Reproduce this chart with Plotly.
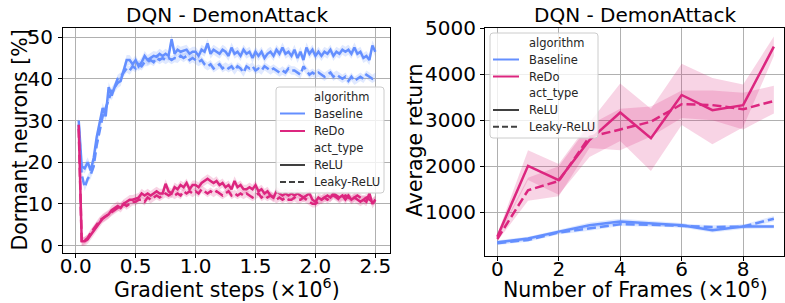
import plotly.graph_objects as go

# ---------------- data: left panel (dormant neurons %) ----------------
steps = [round(0.025 * (i + 1), 3) for i in range(100)]  # gradient steps (x1e6)

base_relu = [30, 19, 18.5, 20, 18, 21, 26, 30, 33, 31,
             38, 36, 38, 39, 39.5, 42, 44.5, 44.5, 43.5, 44.5,
             43, 44, 45.5, 44.5, 45, 45.5, 45.3, 46, 45.5, 46,
             45.5, 49.5, 46, 47, 46.5, 46.8, 47, 46, 46.5, 46.5,
             45.5, 47, 46.5, 48.5, 46, 47, 46.5, 46, 47, 46.5,
             45.5, 47.5, 46, 46.5, 45.5, 47, 46, 46.5, 45, 46.5,
             45.5, 46.5, 45, 46, 46.5, 45.5, 47, 46, 47.5, 46,
             46.5, 45.5, 47, 45, 46.5, 44.5, 47.5, 46, 47, 45.5,
             46.5, 45.5, 46.5, 46, 47, 45.5, 46.5, 46, 47, 46.5,
             47, 46, 47.5, 46, 46.5, 45, 45.5, 44.5, 48, 46.5]
base_leaky = [29, 17, 14, 16, 17, 19, 24, 28, 31, 33,
              35, 37, 38, 40, 40.5, 41.5, 42.5, 42, 43, 42.5,
              43.5, 43, 44, 44, 44.5, 44, 45, 44.5, 45, 44.5,
              45, 44.5, 45, 44.8, 45.5, 45, 45.5, 44.5, 45, 44.5,
              44, 44.5, 43.5, 43, 43.5, 42.5, 43, 43.5, 42.5, 43,
              42.5, 43, 42, 43, 42.5, 41.5, 43, 42.5, 43, 42,
              42.5, 42, 43, 42.5, 42, 42.5, 42, 41.5, 42, 41.5,
              42.5, 42, 42, 41.5, 41, 43, 42, 41, 41.5, 41,
              41.5, 41, 40.5, 41, 41.5, 40.5, 41, 40.5, 40, 40.5,
              39.5, 40.5, 39.5, 40, 40.5, 40, 41, 40.5, 40, 40.5]
redo_relu = [29, 1, 1, 1.5, 2.5, 3.5, 4.5, 5.5, 6.5, 7,
             7.5, 8.5, 9, 9.5, 9, 10, 10.5, 11, 11, 11.2,
             11.5, 12.5, 12, 12.5, 12, 12.5, 13, 12.5, 12.5, 14.8,
             13, 12.5, 14, 13.5, 14.5, 14, 15, 13.5, 14.5, 14.5,
             14, 15, 15.5, 16, 15.5, 15, 15.5, 14.5, 15, 14,
             14.5, 13.5, 15.5, 14, 14.5, 13.5, 13.5, 14, 13.5, 14.5,
             13, 13.5, 12.5, 13, 12, 11.5, 13, 12.5, 12, 12.5,
             12, 12.5, 12, 12.5, 12, 11.5, 12, 12.5, 11, 10.5,
             11.5, 11, 11.5, 12, 11.5, 12.5, 12, 11.5, 12, 11,
             12, 11, 11.5, 11, 10.5, 11, 10.5, 12.5, 10, 11]
redo_leaky = [28, 0.8, 1.2, 1.8, 3, 4, 5, 6, 6.5, 7,
              7.5, 8, 8.5, 9, 9.5, 10, 9.5, 10, 10.5, 10.5,
              11, 11, 10.5, 11.5, 11, 11.5, 12, 11.5, 12, 12.5,
              12, 12.5, 12, 12.5, 12, 13, 12.5, 13, 12.5, 13,
              12.5, 13.5, 13, 12.5, 13, 12.5, 13, 12.5, 12, 12.5,
              13, 12, 12.5, 12, 12.5, 12, 12.5, 12, 11.5, 12,
              12.5, 11.5, 12, 11.5, 12, 11.5, 11, 11.5, 11, 11.5,
              11, 11, 11.5, 11, 11, 11.5, 11, 10.5, 10, 10,
              10.5, 11, 11.5, 11, 11.5, 12, 11.5, 11, 11.5, 12,
              11.5, 11, 11.5, 12, 11.5, 11, 11.5, 11, 10.5, 11]
# estimated confidence half-widths for the thin left-panel bands
ci_base_relu = 1.2
ci_base_leaky = 1.0
ci_redo_relu = 1.1
ci_redo_leaky = 0.9

# ---------------- data: right panel (average return) ----------------
frames = [0, 1, 2, 3, 4, 5, 6, 7, 8, 9]  # x1e6
ret_base_relu = [350, 430, 580, 720, 800, 760, 720, 610, 690, 690]
ret_base_relu_lo = [310, 390, 540, 660, 740, 710, 670, 560, 640, 650]
ret_base_relu_hi = [390, 470, 620, 780, 860, 810, 770, 660, 740, 730]
ret_base_leaky = [330, 400, 560, 650, 740, 730, 710, 680, 690, 860]
ret_base_leaky_lo = [290, 360, 520, 600, 700, 690, 670, 640, 650, 800]
ret_base_leaky_hi = [370, 440, 600, 700, 780, 770, 750, 720, 730, 920]
ret_redo_relu = [470, 2010, 1700, 2570, 3170, 2610, 3550, 3220, 3330, 4600]
ret_redo_relu_lo = [420, 1700, 1380, 2200, 2550, 1900, 2900, 2480, 2850, 4400]
ret_redo_relu_hi = [520, 2350, 2050, 2950, 3800, 3250, 4230, 3920, 3780, 4820]
ret_redo_leaky = [420, 1480, 1680, 2640, 2800, 2970, 3350, 3330, 3240, 3420]
ret_redo_leaky_lo = [370, 1250, 1350, 2400, 2350, 2650, 3050, 3000, 2800, 3150]
ret_redo_leaky_hi = [470, 1750, 2000, 2900, 3250, 3300, 3650, 3650, 3600, 3750]

legend_header_algo = "algorithm"
legend_header_act = "act_type"
algorithms = ["Baseline", "ReDo"]
act_types = ["ReLU", "Leaky-ReLU"]

BLUE = "#648FFF"
PINK = "#DC267F"
BLUE_F = "rgba(100,143,255,0.2)"
PINK_F = "rgba(220,38,127,0.2)"
DASH = "9px,4px"
LW = 2.5
FONT = "DejaVu Sans"
W, H = 785, 303

fig = go.Figure()


def band(x, lo, hi, fill, xa, ya):
    fig.add_trace(go.Scatter(x=x, y=hi, mode="lines", line=dict(width=0),
                             showlegend=False, hoverinfo="skip", xaxis=xa, yaxis=ya))
    fig.add_trace(go.Scatter(x=x, y=lo, mode="lines", line=dict(width=0),
                             fill="tonexty", fillcolor=fill,
                             showlegend=False, hoverinfo="skip", xaxis=xa, yaxis=ya))


def line(x, y, color, dash, xa, ya):
    fig.add_trace(go.Scatter(x=x, y=y, mode="lines",
                             line=dict(color=color, width=LW, dash=dash),
                             showlegend=False, xaxis=xa, yaxis=ya))


# left panel
left = [(base_relu, ci_base_relu, BLUE, BLUE_F, "solid"),
        (base_leaky, ci_base_leaky, BLUE, BLUE_F, DASH),
        (redo_relu, ci_redo_relu, PINK, PINK_F, "solid"),
        (redo_leaky, ci_redo_leaky, PINK, PINK_F, DASH)]
for vals, ci, c, f, d in left:
    band(steps, [v - ci for v in vals], [v + ci for v in vals], f, "x", "y")
for vals, ci, c, f, d in left:
    line(steps, vals, c, d, "x", "y")

# right panel
right = [(ret_base_relu, ret_base_relu_lo, ret_base_relu_hi, BLUE, BLUE_F, "solid"),
         (ret_base_leaky, ret_base_leaky_lo, ret_base_leaky_hi, BLUE, BLUE_F, DASH),
         (ret_redo_relu, ret_redo_relu_lo, ret_redo_relu_hi, PINK, PINK_F, "solid"),
         (ret_redo_leaky, ret_redo_leaky_lo, ret_redo_leaky_hi, PINK, PINK_F, DASH)]
for m, lo, hi, c, f, d in right:
    band(frames, lo, hi, f, "x2", "y2")
for m, lo, hi, c, f, d in right:
    line(frames, m, c, d, "x2", "y2")


# ---------------- helpers: pixel -> paper ----------------
def px(x):
    return x / W


def py(y):
    return 1 - y / H


shapes = []
annotations = []


def rounded_box(x0, y0, x1, y1, r):
    path = (f"M {px(x0 + r)} {py(y0)} L {px(x1 - r)} {py(y0)} "
            f"Q {px(x1)} {py(y0)} {px(x1)} {py(y0 + r)} "
            f"L {px(x1)} {py(y1 - r)} Q {px(x1)} {py(y1)} {px(x1 - r)} {py(y1)} "
            f"L {px(x0 + r)} {py(y1)} Q {px(x0)} {py(y1)} {px(x0)} {py(y1 - r)} "
            f"L {px(x0)} {py(y0 + r)} Q {px(x0)} {py(y0)} {px(x0 + r)} {py(y0)} Z")
    shapes.append(dict(type="path", path=path, xref="paper", yref="paper", layer="above",
                       fillcolor="rgba(255,255,255,0.8)",
                       line=dict(color="#cccccc", width=1)))


def legend_block(x0, y0, x1, y1, rows_y, line_x0, line_x1, text_x):
    rounded_box(x0, y0, x1, y1, 3)
    items = [(legend_header_algo, None, None),
             (algorithms[0], BLUE, "solid"),
             (algorithms[1], PINK, "solid"),
             (legend_header_act, None, None),
             (act_types[0], "#404040", "solid"),
             (act_types[1], "#404040", "6px,3px")]
    for (label, col, dsh), yy in zip(items, rows_y):
        if col is not None:
            shapes.append(dict(type="line", xref="paper", yref="paper", layer="above",
                               x0=px(line_x0), x1=px(line_x1), y0=py(yy), y1=py(yy),
                               line=dict(color=col, width=2, dash=dsh)))
        annotations.append(dict(text=label, x=px(text_x), y=py(yy), xref="paper", yref="paper",
                                showarrow=False, xanchor="left", yanchor="middle",
                                font=dict(family=FONT, size=11.5, color="#262626")))


legend_block(276, 87, 384, 193, [96.7, 113.5, 131, 148, 165, 182], 280, 305, 312)
legend_block(490, 33, 598, 138, [43.3, 59.5, 76.5, 93, 110, 126.7], 493, 519, 527)

# titles and axis labels
for cx, txt in [((63 + 390) / 2, "DQN - DemonAttack"), ((485 + 785) / 2, "DQN - DemonAttack")]:
    annotations.append(dict(text=txt, x=px(cx), y=py(15), xref="paper", yref="paper",
                            showarrow=False, xanchor="center", yanchor="middle",
                            font=dict(family=FONT, size=20, color="black")))
annotations.append(dict(text="Gradient steps (×10<sup>6</sup>)", x=px(226.5), y=py(288),
                        xref="paper", yref="paper", showarrow=False,
                        xanchor="center", yanchor="middle",
                        font=dict(family=FONT, size=20.5, color="black")))
annotations.append(dict(text="Number of Frames (×10<sup>6</sup>)", x=px(635), y=py(288),
                        xref="paper", yref="paper", showarrow=False,
                        xanchor="center", yanchor="middle",
                        font=dict(family=FONT, size=20.5, color="black")))
annotations.append(dict(text="Dormant neurons [%]", x=px(19), y=py(140.5),
                        xref="paper", yref="paper", showarrow=False, textangle=-90,
                        xanchor="center", yanchor="middle",
                        font=dict(family=FONT, size=20.5, color="black")))
annotations.append(dict(text="Average return", x=px(415), y=py(141),
                        xref="paper", yref="paper", showarrow=False, textangle=-90,
                        xanchor="center", yanchor="middle",
                        font=dict(family=FONT, size=20.5, color="black")))

axis_common = dict(showline=True, mirror=True, linecolor="black", linewidth=1,
                   showgrid=True, gridcolor="#b0b0b0", gridwidth=1,
                   ticks="outside", ticklen=4, tickcolor="black",
                   zeroline=False, automargin=False,
                   tickfont=dict(family=FONT, size=20, color="black"))

fig.update_layout(
    width=W, height=H,
    margin=dict(l=0, r=0, t=0, b=0),
    paper_bgcolor="white", plot_bgcolor="white",
    font=dict(family=FONT, size=19, color="black"),
    showlegend=False,
    xaxis=dict(axis_common, domain=[63 / W, 390 / W], range=[-0.106, 2.622],
               tickvals=[0, 0.5, 1.0, 1.5, 2.0, 2.5], tickformat=".1f", anchor="y",
               ticklabelstandoff=-9),
    yaxis=dict(axis_common, domain=[(H - 253) / H, (H - 28) / H], range=[-1.8, 52.2],
               tickvals=[0, 10, 20, 30, 40, 50], anchor="x", ticklabelstandoff=1),
    xaxis2=dict(axis_common, domain=[485 / W, 784 / W], range=[-0.4, 9.33],
                tickvals=[0, 2, 4, 6, 8], anchor="y2", ticklabelstandoff=-9),
    yaxis2=dict(axis_common, domain=[(H - 255.7) / H, (H - 28) / H], range=[57, 5006],
                tickvals=[1000, 2000, 3000, 4000, 5000], anchor="x2"),
    shapes=shapes,
    annotations=annotations,
)

fig.write_html("out.html", config={"displayModeBar": False, "staticPlot": True},
               post_script="document.body.style.margin='0';"
                           "document.body.style.overflow='hidden';")
